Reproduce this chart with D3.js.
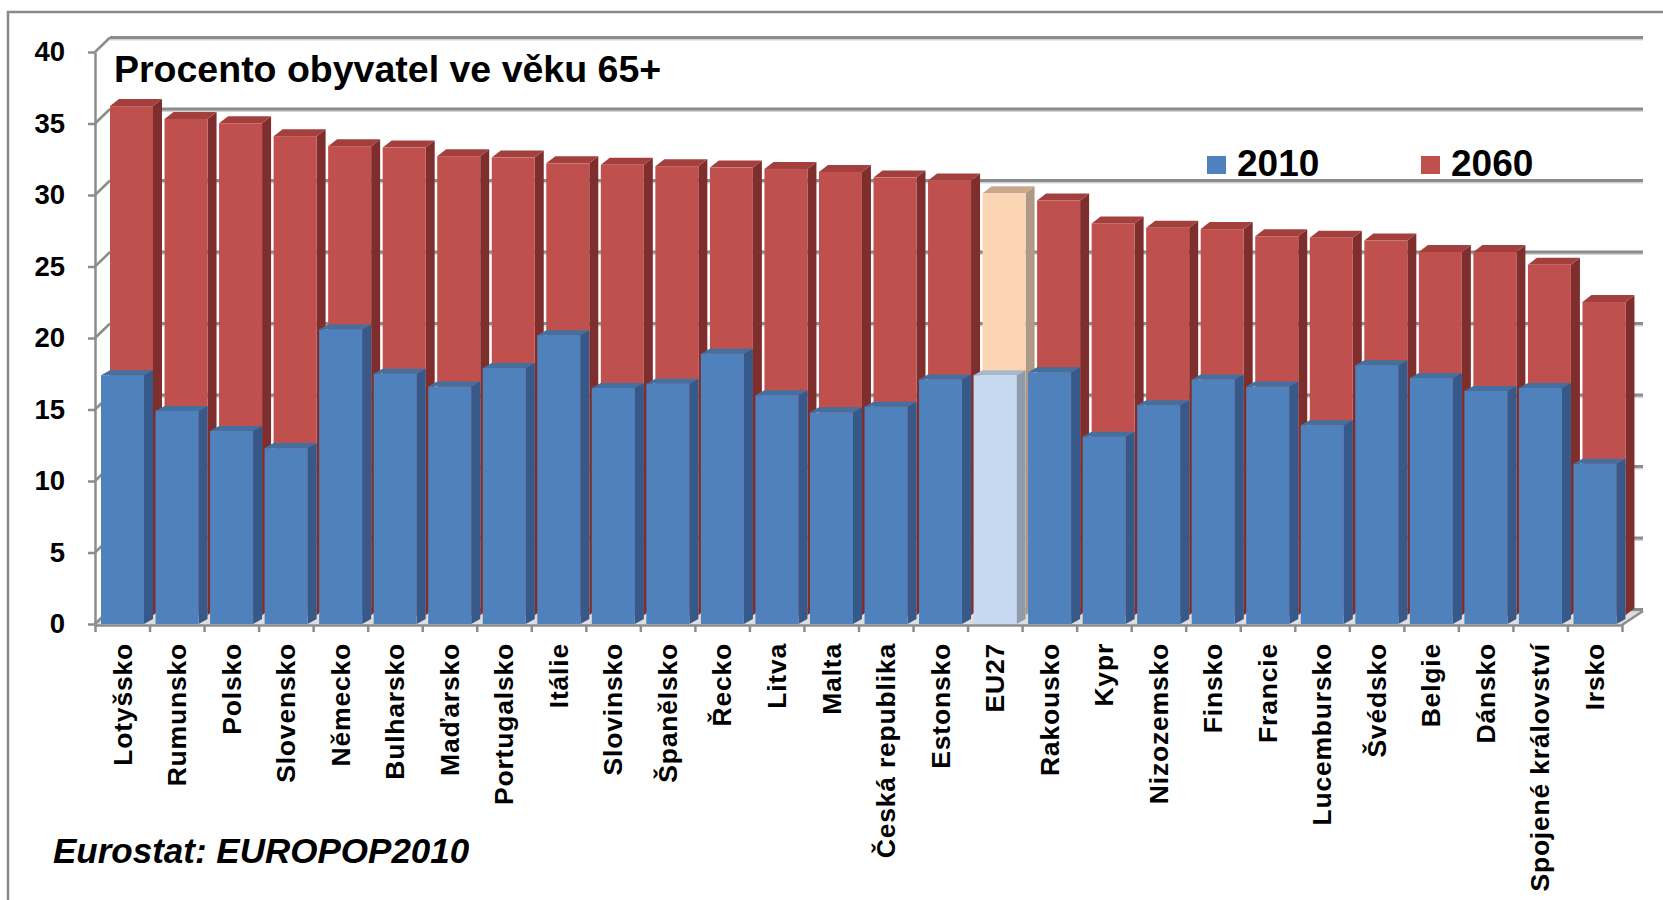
<!DOCTYPE html>
<html>
<head>
<meta charset="utf-8">
<script src="https://cdn.jsdelivr.net/npm/d3@7"></script>
<style>
  body { margin: 0; background: #fff; }
  text { font-family: "Liberation Sans", Arial, sans-serif; font-weight: bold; fill: #000; }
</style>
</head>
<body>
<script>

// categories along the x axis
let categories = ['Lotyšsko', 'Rumunsko', 'Polsko', 'Slovensko', 'Německo', 'Bulharsko', 'Maďarsko',
    'Portugalsko', 'Itálie', 'Slovinsko', 'Španělsko', 'Řecko', 'Litva', 'Malta', 'Česká republika',
    'Estonsko', 'EU27', 'Rakousko', 'Kypr', 'Nizozemsko', 'Finsko', 'Francie', 'Lucembursko',
    'Švédsko', 'Belgie', 'Dánsko', 'Spojené království', 'Irsko']

// share of population aged 65+ (%)
let values2010 = [17.4, 14.9, 13.5, 12.3, 20.6, 17.5, 16.6, 17.9, 20.2, 16.5, 16.8, 18.9, 16.0, 14.8,
    15.2, 17.1, 17.4, 17.6, 13.1, 15.3, 17.1, 16.6, 13.9, 18.1, 17.2, 16.3, 16.5, 11.2]
let values2060 = [35.6, 34.7, 34.4, 33.5, 32.8, 32.7, 32.1, 32.0, 31.6, 31.5, 31.4, 31.3, 31.2, 31.0,
    30.6, 30.4, 29.5, 29.0, 27.4, 27.1, 27.0, 26.5, 26.4, 26.2, 25.4, 25.4, 24.5, 21.9]

let yTicks = [0, 5, 10, 15, 20, 25, 30, 35, 40]
let seriesNames = ['2010', '2060']
let highlighted = 'EU27'

let titleText = 'Procento obyvatel ve věku 65+'
let sourceText = 'Eurostat: EUROPOP2010'

let width = 1663
let height = 900

// plot geometry (front plane)
let plotLeft = 95
let plotRight = 1622
let floorY = 624
// back wall offset
let wallDx = 15
let wallDy = -14.5

let svg = d3.select('body')
            .append('svg')
            .attr('width', width)
            .attr('height', height)

let xScale = d3.scaleBand()
                .domain(categories)
                .range([plotLeft, plotRight])

let xEdge = d3.scaleLinear()
                .domain([0, categories.length])
                .range([plotLeft, plotRight])

let yScale = d3.scaleLinear()
                .domain([0, 40])
                .range([floorY, 52])

let backY = (v) => yScale(v) + wallDy

let grey = '#8c8c8c'

// outer frame
svg.append('rect')
    .attr('x', 8)
    .attr('y', 12)
    .attr('width', 1700)
    .attr('height', 1000)
    .attr('fill', 'none')
    .attr('stroke', '#8a8a8a')
    .attr('stroke-width', 2.5)

let drawWalls = () => {
    // floor
    svg.append('polygon')
        .attr('points', [[plotLeft, floorY + 1], [plotRight, floorY + 1],
            [plotRight + 21, floorY - 13], [plotLeft + wallDx, floorY + wallDy]].join(' '))
        .attr('fill', '#dedede')

    // gridlines on the back wall
    let grid = svg.append('g')
    grid.selectAll('line.shadow')
        .data(yTicks)
        .enter()
        .append('line')
        .attr('class', 'shadow')
        .attr('x1', plotLeft + wallDx)
        .attr('x2', plotRight + 21)
        .attr('y1', (d) => backY(d) + 2)
        .attr('y2', (d) => backY(d) + 2)
        .attr('stroke', '#d4d4d4')
        .attr('stroke-width', 2)
    grid.selectAll('line.grid')
        .data(yTicks)
        .enter()
        .append('line')
        .attr('class', 'grid')
        .attr('x1', plotLeft + wallDx)
        .attr('x2', plotRight + 21)
        .attr('y1', (d) => backY(d))
        .attr('y2', (d) => backY(d))
        .attr('stroke', grey)
        .attr('stroke-width', 3)

    // left side wall
    grid.selectAll('line.side')
        .data(yTicks)
        .enter()
        .append('line')
        .attr('class', 'side')
        .attr('x1', plotLeft)
        .attr('x2', plotLeft + wallDx)
        .attr('y1', (d) => yScale(d))
        .attr('y2', (d) => backY(d))
        .attr('stroke', grey)
        .attr('stroke-width', 2.5)
}

// one 3d column: front, side and top face
let drawBox = (g, x, yTop, yBottom, w, dx, dy, colors) => {
    g.append('polygon')
        .attr('points', [[x + w, yTop], [x + w + dx, yTop + dy], [x + w + dx, yBottom + dy], [x + w, yBottom]].join(' '))
        .attr('fill', colors.side)
    g.append('polygon')
        .attr('points', [[x, yTop], [x + dx, yTop + dy], [x + w + dx, yTop + dy], [x + w, yTop]].join(' '))
        .attr('fill', colors.top)
    g.append('rect')
        .attr('x', x)
        .attr('y', yTop)
        .attr('width', w)
        .attr('height', yBottom - yTop)
        .attr('fill', colors.front)
}

let blue = { front: '#4f81bd', side: '#36598a', top: '#43709f' }
let red = { front: '#c0504d', side: '#7e2f2d', top: '#a3403d' }
let lightBlue = { front: '#c6d9f1', side: '#8e9cae', top: '#a9b9cc' }
let peach = { front: '#fcd5b5', side: '#b09984', top: '#c9a88c' }

let drawBars = () => {
    let barW = 43
    let redDx = 15
    let redDy = -8.8

    let back = svg.append('g')
    categories.forEach((c, i) => {
        let colors = c === highlighted ? peach : red
        drawBox(back, xScale(c) + redDx, yScale(values2060[i]) + redDy, floorY + redDy, barW, 9, -7, colors)
    })

    let front = svg.append('g')
    categories.forEach((c, i) => {
        let colors = c === highlighted ? lightBlue : blue
        drawBox(front, xScale(c) + 6, yScale(values2010[i]), floorY, barW, 9, -5, colors)
    })
}

let generateAxes = () => {
    let yAxis = d3.axisLeft(yScale)
                    .tickValues(yTicks)
                    .tickSize(7)
                    .tickSizeOuter(0)
                    .tickPadding(23)

    let yg = svg.append('g')
        .attr('id', 'y-axis')
        .attr('transform', 'translate(' + plotLeft + ',0)')
        .call(yAxis)
    yg.selectAll('path, line').attr('stroke', grey).attr('stroke-width', 2.5)
    yg.selectAll('text')
        .style('font-size', '27.5px')
        .style('font-family', '"Liberation Sans", Arial, sans-serif')
        .style('font-weight', 'bold')
        .attr('fill', '#000')

    // floor edge with ticks between categories
    let edgeAxis = d3.axisBottom(xEdge)
                    .tickValues(d3.range(categories.length + 1))
                    .tickFormat('')
                    .tickSize(7)
                    .tickSizeOuter(0)
    let eg = svg.append('g')
        .attr('transform', 'translate(0,' + (floorY + 1) + ')')
        .call(edgeAxis)
    eg.selectAll('path, line').attr('stroke', grey).attr('stroke-width', 2.5)

    svg.append('line')
        .attr('x1', plotRight)
        .attr('y1', floorY + 1)
        .attr('x2', plotRight + 21)
        .attr('y2', floorY - 13)
        .attr('stroke', grey)
        .attr('stroke-width', 2.5)

    let xAxis = d3.axisBottom(xScale).tickSize(0)
    let xg = svg.append('g')
        .attr('id', 'x-axis')
        .attr('transform', 'translate(0,' + (floorY + 1) + ')')
        .call(xAxis)
    xg.select('.domain').remove()
    xg.selectAll('text')
        .attr('transform', 'rotate(-90)')
        .attr('text-anchor', 'end')
        .attr('x', -18)
        .attr('y', 0)
        .attr('dy', '0.35em')
        .attr('fill', '#000')
        .style('font-size', '26.5px')
        .style('letter-spacing', '0.8px')
        .style('font-family', '"Liberation Sans", Arial, sans-serif')
        .style('font-weight', 'bold')
}

let drawTexts = () => {
    svg.append('text')
        .attr('x', 114)
        .attr('y', 82)
        .style('font-size', '37.5px')
        .text(titleText)

    let legendX = [1207, 1421]
    let legendColors = [blue.front, red.front]
    let legend = svg.append('g')
    legend.selectAll('rect')
        .data(seriesNames)
        .enter()
        .append('rect')
        .attr('x', (d, i) => legendX[i])
        .attr('y', 156)
        .attr('width', 19)
        .attr('height', 18)
        .attr('fill', (d, i) => legendColors[i])
    legend.selectAll('text')
        .data(seriesNames)
        .enter()
        .append('text')
        .attr('x', (d, i) => legendX[i] + 30)
        .attr('y', 176)
        .style('font-size', '37px')
        .text((d) => d)

    svg.append('text')
        .attr('x', 53)
        .attr('y', 863)
        .style('font-size', '35px')
        .style('font-style', 'italic')
        .text(sourceText)
}

drawWalls()
drawBars()
generateAxes()
drawTexts()

</script>
</body>
</html>
